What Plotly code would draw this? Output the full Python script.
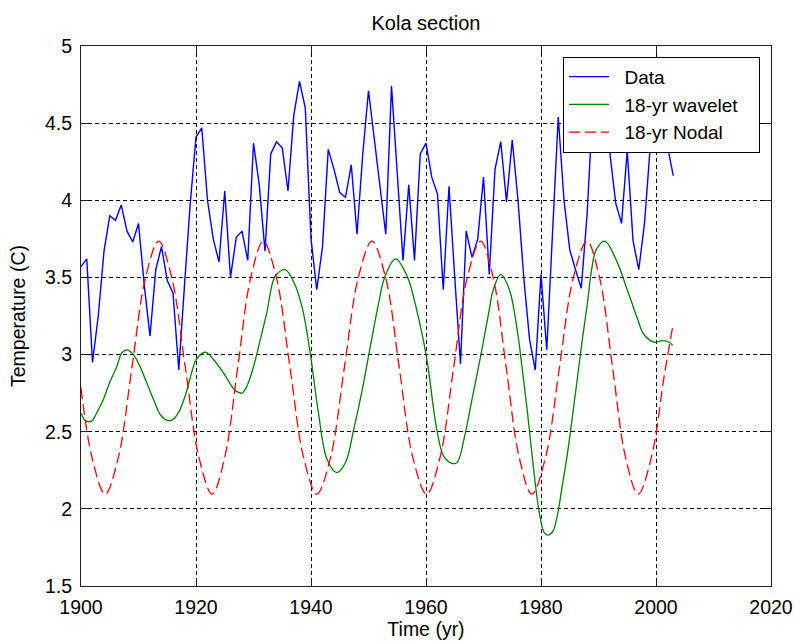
import plotly.graph_objects as go

# ---- Data ----
years = list(range(1900, 2004))
data_temp = [
    3.57, 3.62, 2.95, 3.25, 3.67, 3.90, 3.87, 3.97, 3.80, 3.73,   # 1900-1909
    3.85, 3.45, 3.12, 3.55, 3.70, 3.48, 3.40, 2.90, 3.45, 3.98,   # 1910-1919
    4.41, 4.47, 4.00, 3.75, 3.60, 4.06, 3.50, 3.76, 3.80, 3.61,   # 1920-1929
    4.37, 4.10, 3.67, 4.30, 4.38, 4.34, 4.06, 4.55, 4.77, 4.60,   # 1930-1939
    3.75, 3.42, 3.70, 4.33, 4.20, 4.05, 4.02, 4.23, 3.78, 4.30,   # 1940-1949
    4.71, 4.40, 4.10, 3.78, 4.74, 4.15, 3.61, 4.10, 3.61, 4.30,   # 1950-1959
    4.37, 4.15, 4.04, 3.42, 4.09, 3.50, 2.94, 3.80, 3.63, 3.75,   # 1960-1969
    4.15, 3.52, 4.20, 4.38, 3.99, 4.39, 4.00, 3.50, 3.10, 2.90,   # 1970-1979
    3.52, 3.03, 3.80, 4.54, 4.00, 3.68, 3.55, 3.43, 3.90, 4.60,   # 1980-1989
    4.75, 4.50, 4.30, 3.98, 3.85, 4.32, 3.74, 3.55, 3.85, 4.35,   # 1990-1999
    4.60, 4.60, 4.35, 4.16                                         # 2000-2003
]

wavelet_years = [
    1900.0, 1900.8, 1901.9, 1902.7, 1903.9, 1905.0, 1906.2, 1907.1, 1908.0, 1909.1,
    1910.3, 1911.4, 1912.6, 1913.8, 1914.9, 1915.8, 1916.9, 1918.1, 1919.0, 1920.1,
    1921.6, 1923.0, 1924.8, 1926.5, 1927.1, 1928.0, 1928.9, 1930.0, 1931.2, 1932.3,
    1933.8, 1935.5, 1937.0, 1938.5, 1939.9, 1941.3, 1942.8, 1944.5, 1946.0, 1947.4,
    1948.9, 1950.3, 1951.8, 1952.8, 1954.7, 1956.7, 1958.5, 1960.1, 1961.9, 1963.1,
    1964.5, 1965.4, 1966.6, 1968.0, 1969.5, 1970.9, 1971.7, 1973.0, 1974.5, 1975.9,
    1976.6, 1977.6, 1978.8, 1979.6, 1980.5, 1981.1, 1982.0, 1982.8, 1983.7, 1984.6,
    1985.4, 1986.3, 1987.2, 1988.1, 1988.8, 1989.6, 1991.1, 1993.0, 1995.0, 1996.8,
    1997.9, 1999.7, 2001.1, 2002.3, 2002.9
]
wavelet_temp = [
    2.62, 2.57, 2.57, 2.62, 2.71, 2.82, 2.92, 3.01, 3.03, 3.00,
    2.92, 2.82, 2.71, 2.61, 2.575, 2.575, 2.62, 2.73, 2.85, 2.97,
    3.015, 2.97, 2.88, 2.78, 2.76, 2.75, 2.80, 2.92, 3.10, 3.27,
    3.51, 3.55, 3.47, 3.30, 3.00, 2.62, 2.32, 2.235, 2.30, 2.51,
    2.77, 3.05, 3.34, 3.50, 3.62, 3.51, 3.27, 2.98, 2.51, 2.34,
    2.295, 2.30, 2.45, 2.71, 2.99, 3.27, 3.42, 3.52, 3.42, 3.15,
    2.95, 2.64, 2.23, 2.00, 1.85, 1.83, 1.85, 1.95, 2.15, 2.36,
    2.58, 2.84, 3.10, 3.34, 3.55, 3.68, 3.735, 3.62, 3.42, 3.23,
    3.13, 3.08, 3.09, 3.08, 3.06
]

nodal_years = [
    1900.0, 1901.9, 1904.2, 1906.5, 1908.85, 1911.2, 1913.5, 1915.8, 1918.15, 1920.5,
    1922.8, 1925.0, 1927.25, 1929.5, 1931.7, 1934.0, 1936.35, 1938.7, 1941.0, 1943.4,
    1945.8, 1948.2, 1950.6, 1953.0, 1955.35, 1957.7, 1960.1, 1962.45, 1964.8, 1967.15,
    1969.5, 1971.7, 1973.95, 1976.2, 1978.4, 1980.8, 1983.2, 1985.6, 1988.0, 1990.2,
    1992.45, 1994.7, 1996.9, 1999.2, 2001.5, 2003.0
]
nodal_temp = [
    2.785, 2.335, 2.095, 2.335, 2.915, 3.495, 3.735, 3.495, 2.915, 2.335,
    2.095, 2.335, 2.915, 3.495, 3.735, 3.495, 2.915, 2.335, 2.095, 2.335,
    2.915, 3.495, 3.735, 3.495, 2.915, 2.335, 2.095, 2.335, 2.915, 3.495,
    3.735, 3.495, 2.915, 2.335, 2.095, 2.335, 2.915, 3.495, 3.735, 3.495,
    2.915, 2.335, 2.095, 2.335, 2.88, 3.20
]

series_names = ["Data", "18-yr wavelet", "18-yr Nodal"]
x_ticks = [1900, 1920, 1940, 1960, 1980, 2000, 2020]
y_ticks = [1.5, 2, 2.5, 3, 3.5, 4, 4.5, 5]

FONT = "Liberation Sans, Arial, sans-serif"
NB = "\u00a0"


def legend_label(name):
    # a little padding so the legend box has the reference's proportions
    return NB * 2 + name + NB * 3


fig = go.Figure()
fig.add_trace(go.Scatter(x=years, y=data_temp, mode="lines", name=legend_label(series_names[0]),
                         line=dict(color="rgb(0,0,255)", width=1.4)))
fig.add_trace(go.Scatter(x=wavelet_years, y=wavelet_temp, mode="lines",
                         name=legend_label(series_names[1]),
                         line=dict(color="rgb(0,128,0)", width=1.3, shape="spline")))
fig.add_trace(go.Scatter(x=nodal_years, y=nodal_temp, mode="lines",
                         name=legend_label(series_names[2]),
                         line=dict(color="rgb(255,0,0)", width=1.3, shape="spline",
                                   dash="11px,5px")))

axis_common = dict(
    showline=True, linecolor="#202020", linewidth=1, mirror="ticks",
    ticks="inside", ticklen=7, tickcolor="#202020", tickwidth=1,
    showgrid=True, gridcolor="black", gridwidth=1, griddash="4px,3px",
    zeroline=False, automargin=False,
    tickfont=dict(family=FONT, size=19.5, color="black"),
)

fig.update_xaxes(range=[1900, 2020], tickvals=x_ticks,
                 ticktext=[str(v) for v in x_ticks],
                 title=dict(text="Time (yr)", font=dict(family=FONT, size=19.5, color="black"),
                            standoff=2),
                 ticklabelstandoff=4, **axis_common)
fig.update_yaxes(range=[1.5, 5], tickvals=y_ticks,
                 ticktext=[("%g" % v) for v in y_ticks],
                 ticklabelstandoff=4, **axis_common)

fig.add_annotation(text="Temperature (C)", textangle=-90,
                   xref="paper", yref="paper", x=(18 - 81) / 690, y=0.5,
                   xanchor="center", yanchor="middle", showarrow=False,
                   font=dict(family=FONT, size=19.5, color="black"))

fig.update_layout(
    width=794, height=642,
    margin=dict(l=81, r=23, t=46, b=56, autoexpand=False),
    paper_bgcolor="white", plot_bgcolor="white",
    title=dict(text="Kola section", x=(81 + 771) / 2 / 794, xanchor="center",
               y=1 - 23 / 642, yanchor="middle", automargin=False,
               font=dict(family=FONT, size=20, color="black")),
    legend=dict(x=(760 - 81) / 690, xanchor="right", y=0.98, yanchor="top",
                bgcolor="white", bordercolor="black", borderwidth=1,
                font=dict(family=FONT, size=19, color="black"),
                tracegroupgap=0, itemwidth=40),
    showlegend=True,
)

fig.write_html("out.html", config={"displayModeBar": False},
               post_script="document.body.style.margin='0';document.body.style.overflow='hidden';")
